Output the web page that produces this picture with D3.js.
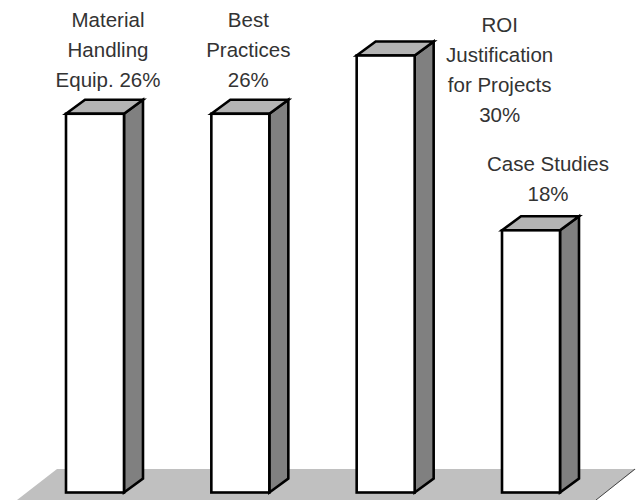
<!DOCTYPE html>
<html><head><meta charset="utf-8">
<script src="https://cdn.jsdelivr.net/npm/d3@7"></script>
<style>html,body{margin:0;padding:0;background:#fff;overflow:hidden}svg{display:block}</style>
</head><body><div id="chart"></div>
<script>
const categories = ["Material Handling Equip.", "Best Practices", "ROI Justification for Projects", "Case Studies"];
const values = [26, 26, 30, 18];
const labelLines = [
  ["Material", "Handling", "Equip. 26%"],
  ["Best", "Practices", "26%"],
  ["ROI", "Justification", "for Projects", "30%"],
  ["Case Studies", "18%"]
];

const W = 636, H = 500;
const labelDx = [13, 8, 114, 17];
const labelTop = [27, 27, 32, 171];
const depthX = 19, depthY = 14, lineH = 30;

const svg = d3.select("#chart").append("svg").attr("width", W).attr("height", H);
const x = d3.scaleBand().domain(categories).range([66, 560]).paddingInner(0.601).paddingOuter(0);
const y = d3.scaleLinear().domain([0, 30]).range([492.5, 55.5]);

// floor
svg.append("path").attr("d", d3.line()([[57,469],[636,469],[596,500],[17,500]]) + "Z").attr("fill", "#c0c0c0");
svg.append("path").attr("d", d3.line()([[635,469],[596,500]])).attr("stroke", "#444").attr("stroke-width", 1).attr("fill", "none");

const line = d3.line();
const bars = svg.selectAll("g.bar").data(categories).join("g").attr("class", "bar");
const common = s => s.attr("stroke", "#000").attr("stroke-width", 2.6).attr("stroke-linejoin", "miter");

bars.append("path").call(common).attr("fill", "#808080").attr("d", (c, i) => {
  const r = x(c) + x.bandwidth(), t = y(values[i]), b = y(0);
  return line([[r,t],[r+depthX,t-depthY],[r+depthX,b-depthY],[r,b]]) + "Z";
});
bars.append("path").call(common).attr("fill", "#b4b4b4").attr("d", (c, i) => {
  const l = x(c), r = l + x.bandwidth(), t = y(values[i]);
  return line([[l,t],[l+depthX,t-depthY],[r+depthX,t-depthY],[r,t]]) + "Z";
});
bars.append("rect").call(common).attr("fill", "#fff")
  .attr("x", c => x(c)).attr("width", x.bandwidth())
  .attr("y", (c, i) => y(values[i])).attr("height", (c, i) => y(0) - y(values[i]));

bars.each(function (c, i) {
  const cx = x(c) + x.bandwidth() / 2 + labelDx[i];
  d3.select(this).selectAll("text").data(labelLines[i]).join("text")
    .attr("x", cx).attr("y", (d, k) => labelTop[i] + k * lineH)
    .attr("text-anchor", "middle")
    .attr("font-family", "'Liberation Sans', Arial, sans-serif")
    .attr("font-size", 20.5).attr("fill", "#333").text(d => d);
});
</script></body></html>
